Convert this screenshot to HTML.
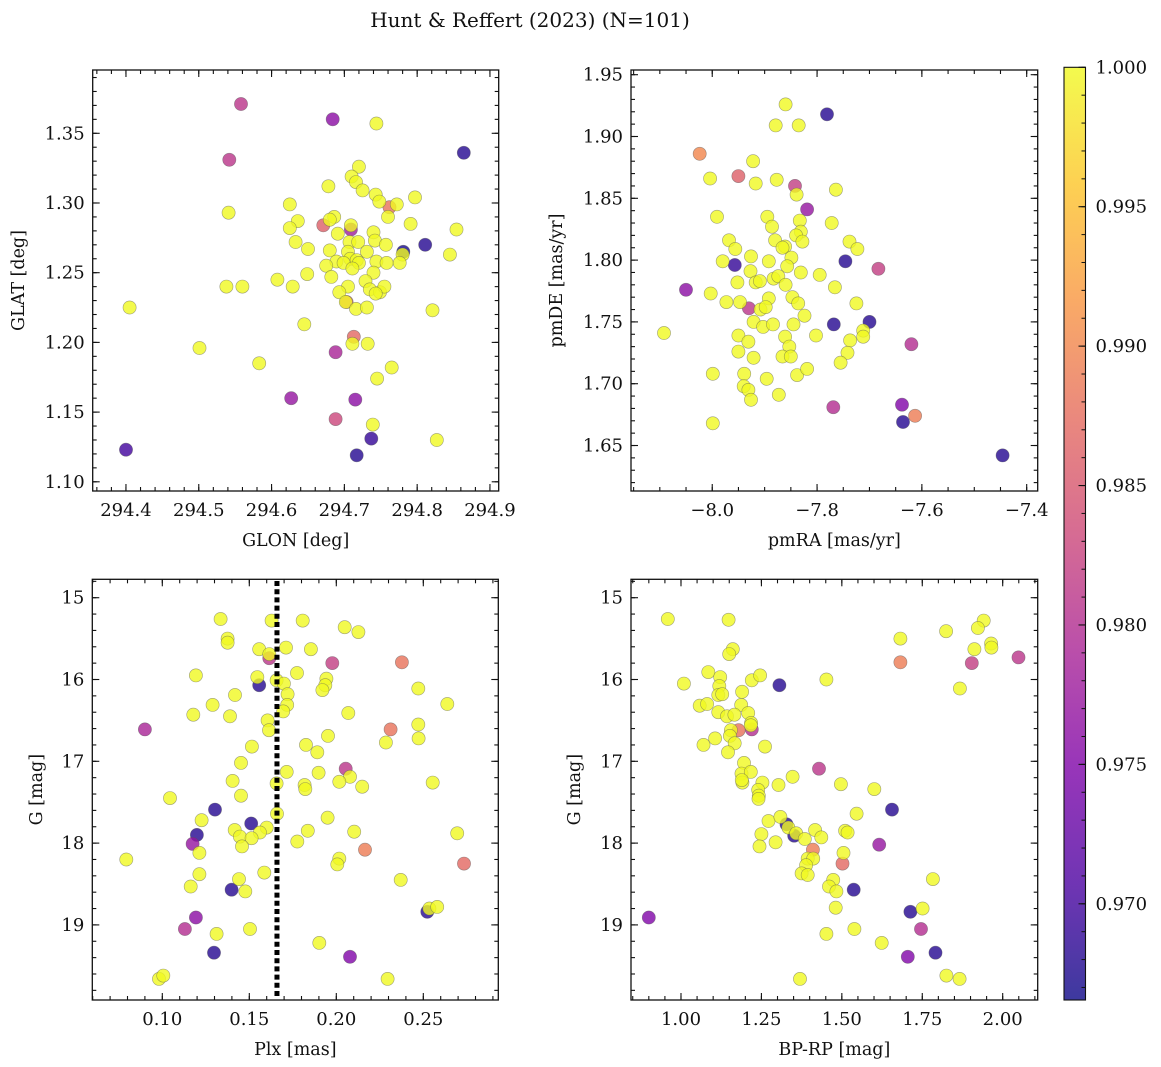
<!DOCTYPE html>
<html><head><meta charset="utf-8"><style>
html,body{margin:0;padding:0;background:#fff;}
svg{display:block;font-family:"DejaVu Serif","Liberation Serif",serif;}
</style></head><body>
<svg id="fig" width="1161" height="1067" viewBox="0 0 1161 1067" xmlns="http://www.w3.org/2000/svg">
<text x="530" y="27" font-size="20" text-anchor="middle" fill="#111">Hunt &amp; Reffert (2023) (N=101)</text>
</svg>
<script>
// Panel A: GLON vs GLAT
const glon=[294.558,294.684,294.744,294.864,294.542,294.720,294.710,294.716,294.678,294.725,294.743,294.797,294.748,294.625,294.762,294.772,294.541,294.760,294.686,294.680,294.636,294.791,294.671,294.709,294.709,294.625,294.854,294.740,294.691,294.742,294.633,294.707,294.719,294.757,294.811,294.781,294.780,294.680,294.650,294.705,294.731,294.845,294.708,294.689,294.699,294.717,294.720,294.744,294.758,294.776,294.675,294.711,294.649,294.740,294.682,294.608,294.629,294.538,294.560,294.729,294.705,294.735,294.749,294.755,294.743,294.693,294.703,294.702,294.716,294.731,294.405,294.821,294.645,294.713,294.711,294.732,294.501,294.688,294.583,294.765,294.745,294.627,294.715,294.688,294.739,294.737,294.827,294.400,294.717];
const glat=[1.371,1.360,1.357,1.336,1.331,1.326,1.319,1.315,1.312,1.309,1.306,1.304,1.301,1.299,1.297,1.299,1.293,1.290,1.290,1.288,1.287,1.285,1.284,1.281,1.284,1.282,1.281,1.279,1.278,1.273,1.272,1.272,1.272,1.270,1.270,1.265,1.263,1.266,1.267,1.265,1.265,1.263,1.260,1.258,1.257,1.259,1.257,1.258,1.257,1.257,1.255,1.253,1.249,1.250,1.247,1.245,1.240,1.240,1.240,1.244,1.240,1.238,1.236,1.240,1.235,1.236,1.229,1.229,1.224,1.225,1.225,1.223,1.213,1.204,1.199,1.199,1.196,1.193,1.185,1.182,1.174,1.160,1.159,1.145,1.141,1.131,1.130,1.123,1.119];
const probA=[.981,.976,1,.968,.981,1,1,1,1,1,1,1,1,1,.988,1,1,1,1,1,1,1,.986,.978,1,1,1,1,1,1,1,1,1,1,.968,.967,1,1,1,1,1,1,1,1,1,1,1,1,1,1,1,1,1,1,1,1,1,1,1,1,1,1,1,1,1,1,.987,1,1,1,1,1,1,.987,1,1,1,.979,1,1,1,.977,.976,.983,1,.969,1,.970,.968];
// Panel B: pmRA vs pmDE
const pmra=[-7.860,-7.781,-7.879,-7.835,-8.024,-7.922,-8.004,-7.950,-7.917,-7.877,-7.842,-7.839,-7.764,-7.819,-7.991,-7.895,-7.886,-7.833,-7.772,-7.831,-7.840,-7.828,-7.880,-7.861,-7.866,-7.968,-7.956,-7.738,-7.723,-7.926,-7.849,-7.980,-7.957,-7.892,-7.857,-7.746,-7.927,-7.831,-7.795,-7.683,-7.883,-7.874,-7.952,-7.917,-7.909,-7.860,-7.766,-8.050,-8.003,-7.973,-7.947,-7.892,-7.847,-7.836,-7.930,-7.908,-7.898,-7.725,-7.824,-7.921,-7.903,-7.884,-7.845,-7.768,-7.700,-8.092,-7.950,-7.931,-7.950,-7.921,-7.861,-7.853,-7.866,-7.850,-7.802,-7.737,-7.712,-7.712,-7.742,-7.620,-7.755,-7.999,-7.939,-7.896,-7.838,-7.819,-7.940,-7.931,-7.926,-7.873,-7.769,-7.638,-7.613,-7.636,-7.999,-7.446];
const pmde=[1.926,1.918,1.909,1.909,1.886,1.880,1.866,1.868,1.862,1.865,1.860,1.853,1.857,1.841,1.835,1.835,1.827,1.832,1.830,1.823,1.820,1.815,1.816,1.811,1.810,1.816,1.809,1.815,1.809,1.803,1.802,1.799,1.796,1.799,1.795,1.799,1.791,1.790,1.788,1.793,1.785,1.787,1.782,1.782,1.783,1.780,1.778,1.776,1.773,1.766,1.766,1.769,1.770,1.765,1.761,1.760,1.762,1.765,1.755,1.750,1.746,1.748,1.748,1.748,1.750,1.741,1.739,1.734,1.726,1.721,1.738,1.730,1.722,1.722,1.739,1.735,1.743,1.738,1.725,1.732,1.717,1.708,1.708,1.704,1.707,1.712,1.698,1.695,1.687,1.691,1.681,1.683,1.674,1.669,1.668,1.642];
const probB=[1,.968,1,1,.990,1,1,.986,1,1,.982,1,1,.977,1,1,1,1,1,1,1,1,1,1,1,1,1,1,1,1,1,1,.969,1,1,.968,1,1,1,.982,1,1,1,1,1,1,1,.976,1,1,1,1,1,1,.981,1,1,1,1,1,1,1,1,.968,.968,1,1,1,1,1,1,1,1,1,1,1,1,1,1,.980,1,1,1,1,1,1,1,1,1,1,.980,.975,.989,.968,1,.968];
// Panel C: Plx vs G
const plx=[0.1335,0.1628,0.1807,0.2048,0.2127,0.1375,0.1375,0.1557,0.1711,0.1854,0.1615,0.1615,0.1977,0.2377,0.1193,0.1774,0.1546,0.1557,0.1657,0.1699,0.1943,0.1937,0.1920,0.2471,0.1418,0.1720,0.1289,0.1718,0.1695,0.2638,0.1178,0.1389,0.2069,0.0900,0.1605,0.1613,0.2312,0.2471,0.2473,0.2285,0.1515,0.1952,0.1826,0.1891,0.1452,0.1715,0.1898,0.2054,0.2079,0.1404,0.1657,0.1818,0.1822,0.2017,0.2149,0.2554,0.1452,0.1044,0.1303,0.1659,0.1511,0.1226,0.1950,0.1600,0.1416,0.1561,0.1446,0.1513,0.1199,0.1836,0.2103,0.2695,0.1776,0.1458,0.1174,0.1213,0.2165,0.0793,0.2017,0.2006,0.2734,0.1213,0.1586,0.1163,0.1441,0.1398,0.1477,0.2370,0.2523,0.2535,0.2580,0.1193,0.1130,0.1312,0.1504,0.1902,0.1297,0.2079,0.0981,0.1006,0.2295];
const gmagC=[15.26,15.28,15.28,15.36,15.42,15.50,15.55,15.63,15.61,15.63,15.74,15.69,15.80,15.79,15.95,15.92,15.97,16.07,16.01,16.05,15.99,16.07,16.13,16.11,16.19,16.18,16.31,16.31,16.39,16.30,16.43,16.45,16.41,16.61,16.50,16.62,16.61,16.55,16.72,16.77,16.82,16.69,16.80,16.89,17.02,17.13,17.14,17.09,17.19,17.24,17.27,17.29,17.34,17.25,17.31,17.26,17.42,17.45,17.59,17.64,17.76,17.72,17.69,17.81,17.84,17.87,17.92,17.94,17.90,17.85,17.86,17.88,17.98,18.04,18.01,18.12,18.08,18.20,18.19,18.26,18.25,18.38,18.36,18.53,18.44,18.57,18.59,18.45,18.84,18.80,18.78,18.91,19.05,19.11,19.05,19.22,19.34,19.39,19.66,19.62,19.66];
const probC=[1,1,1,1,1,1,1,1,1,1,.981,1,.982,.988,1,1,1,.968,1,1,1,1,1,1,1,1,1,1,1,1,1,1,1,.979,1,1,.988,1,1,1,1,1,1,1,1,1,1,.981,1,1,1,1,1,1,1,1,1,1,.968,1,.968,1,1,1,1,1,1,1,.968,1,1,1,1,1,.977,1,.989,1,1,1,.987,1,1,1,1,.968,1,1,.968,1,1,.976,.980,1,1,1,.968,.975,1,1,1];
const plxCut=[0.1659];
// Panel D: BP-RP vs G
const bprp=[0.959,1.148,1.161,1.150,1.824,1.682,1.941,1.923,1.964,1.965,1.912,1.682,1.904,2.049,1.867,1.452,1.306,1.009,1.085,1.122,1.119,1.220,1.246,1.190,1.116,1.128,1.058,1.081,1.187,1.116,1.143,1.166,1.209,1.218,1.217,1.179,1.220,1.155,1.152,1.070,1.106,1.167,1.146,1.261,1.196,1.188,1.217,1.191,1.189,1.253,1.240,1.242,1.241,1.303,1.347,1.429,1.497,1.601,1.656,1.546,1.272,1.309,1.328,1.334,1.352,1.358,1.250,1.244,1.294,1.385,1.417,1.436,1.510,1.518,1.410,1.505,1.616,1.502,1.394,1.411,1.389,1.375,1.394,1.473,1.460,1.483,1.537,1.783,1.481,1.713,1.751,0.900,1.746,1.452,1.539,1.624,1.705,1.791,1.370,1.825,1.866];
const gmagD=[15.26,15.27,15.63,15.69,15.41,15.50,15.28,15.37,15.56,15.61,15.63,15.79,15.80,15.73,16.11,16.00,16.07,16.05,15.91,15.97,16.08,16.01,15.95,16.15,16.19,16.18,16.32,16.30,16.31,16.40,16.45,16.43,16.41,16.53,16.56,16.62,16.61,16.62,16.69,16.80,16.72,16.78,16.89,16.82,17.02,17.15,17.13,17.26,17.23,17.26,17.35,17.42,17.46,17.29,17.19,17.09,17.28,17.34,17.59,17.64,17.73,17.68,17.77,17.81,17.91,17.88,17.89,18.04,17.99,17.95,17.84,17.93,17.85,17.87,18.08,18.12,18.02,18.25,18.19,18.19,18.27,18.37,18.39,18.45,18.53,18.59,18.57,18.44,18.79,18.84,18.80,18.91,19.05,19.11,19.05,19.22,19.39,19.34,19.66,19.62,19.66];
const probD=[1,1,1,1,1,1,1,1,1,1,1,.989,.982,.981,1,1,.968,1,1,1,1,1,1,1,1,1,1,1,1,1,1,1,1,1,1,.988,.980,1,1,1,1,1,1,1,1,1,1,1,1,1,1,1,1,1,1,.981,1,1,.968,1,1,1,.968,1,.968,1,1,1,1,1,1,1,1,1,.989,1,.977,.987,1,1,1,1,1,1,1,1,.968,1,1,.968,1,.975,.980,1,1,1,.975,.968,1,1,1];
// tick labels
const ticksA_x=[294.4,294.5,294.6,294.7,294.8,294.9];
const ticksA_y=[1.10,1.15,1.20,1.25,1.30,1.35];
const ticksB_x=[-8.0,-7.8,-7.6,-7.4];
const ticksB_y=[1.65,1.70,1.75,1.80,1.85,1.90,1.95];
const ticksC_x=[0.10,0.15,0.20,0.25];
const ticksCD_y=[15,16,17,18,19];
const ticksD_x=[1.00,1.25,1.50,1.75,2.00];
const cbarTicks=[0.970,0.975,0.980,0.985,0.990,0.995,1.000];
const cbarRange=[0.96655,1.0];

const NS='http://www.w3.org/2000/svg';
const svg=document.getElementById('fig');
function mk(tag,attrs,parent){const e=document.createElementNS(NS,tag);for(const k in attrs)e.setAttribute(k,attrs[k]);(parent||svg).appendChild(e);return e;}
const plasma=[[13,8,135],[76,2,161],[126,3,168],[169,35,149],[204,71,120],[229,107,93],[248,149,64],[253,197,39],[240,249,33]];
function cmap(v){let t=(v-cbarRange[0])/(cbarRange[1]-cbarRange[0]);t=Math.max(0,Math.min(1,t));const s=t*8;const i=Math.min(7,Math.floor(s));const f=s-i;const a=plasma[i],b=plasma[i+1];return 'rgb('+[0,1,2].map(k=>Math.round(a[k]+(b[k]-a[k])*f)).join(',')+')';}
function fmt(v,d){const s=Math.abs(v).toFixed(d);return (v<0?'\u2212':'')+s;}

function panel(cfg){
  const g=mk('g',{});
  
  
  const {L,R,T,B}=cfg;
  const sx=v=>L+(v-cfg.xd[0])/(cfg.xd[1]-cfg.xd[0])*(R-L);
  const sy=cfg.invert? (v=>T+(v-cfg.yd[0])/(cfg.yd[1]-cfg.yd[0])*(B-T)) : (v=>B-(v-cfg.yd[0])/(cfg.yd[1]-cfg.yd[0])*(B-T));
  // points sorted so higher prob on top
  const idx=cfg.xs.map((_,i)=>i).sort((a,b)=>cfg.cs[a]-cfg.cs[b]);
  const pg=mk('g',{},g);
  
  
  idx.forEach(i=>{
    const c=mk('circle',{cx:sx(cfg.xs[i]).toFixed(1),cy:sy(cfg.ys[i]).toFixed(1),r:6.6,fill:cmap(cfg.cs[i]),'fill-opacity':0.8,stroke:'#555','stroke-opacity':0.55,'stroke-width':0.6},pg);
    
    
  });
  if(cfg.extra) cfg.extra(g,sx,sy);
  // frame
  const fr=mk('rect',{x:L,y:T,width:R-L,height:B-T,fill:'none',stroke:'#111','stroke-width':1.3},g);
  
  
  // ticks
  const tg=mk('g',{stroke:'#111','stroke-width':1.1},g);
  function xt(v,len){const x=sx(v);if(x<L-0.5||x>R+0.5)return;mk('line',{x1:x,y1:B,x2:x,y2:B-len},tg);mk('line',{x1:x,y1:T,x2:x,y2:T+len},tg);}
  function yt(v,len){const y=sy(v);if(y<T-0.5||y>B+0.5)return;mk('line',{x1:L,y1:y,x2:L+len,y2:y},tg);mk('line',{x1:R,y1:y,x2:R-len,y2:y},tg);}
  const nxm=Math.ceil((cfg.xd[0])/cfg.xminor-1e-9), nxM=Math.floor(cfg.xd[1]/cfg.xminor+1e-9);
  for(let k=nxm;k<=nxM;k++) xt(k*cfg.xminor,4);
  const lo=Math.min(cfg.yd[0],cfg.yd[1]),hi=Math.max(cfg.yd[0],cfg.yd[1]);
  for(let k=Math.ceil(lo/cfg.yminor-1e-9);k<=Math.floor(hi/cfg.yminor+1e-9);k++) yt(k*cfg.yminor,4);
  cfg.xticks.forEach(v=>{xt(v,7);const t=mk('text',{x:sx(v),y:B+25,'font-size':18,'text-anchor':'middle',fill:'#111'},g);t.textContent=fmt(v,cfg.xdec);});
  cfg.yticks.forEach(v=>{yt(v,7);const t=mk('text',{x:L-8,y:sy(v)+6,'font-size':18,'text-anchor':'end',fill:'#111'},g);t.textContent=fmt(v,cfg.ydec);});
  const xl=mk('text',{x:(L+R)/2,y:B+55,'font-size':17.5,'text-anchor':'middle',fill:'#111'},g);
  xl.textContent=cfg.xlabel;
  
  
  const ylx=cfg.ylx, yly=(T+B)/2;
  const yl=mk('text',{x:ylx,y:yly,'font-size':17.5,'text-anchor':'middle',fill:'#111',transform:'rotate(-90 '+ylx+' '+yly+')'},g);
  yl.textContent=cfg.ylabel;
  
  
}

panel({name:'glon-glat-panel',L:92.7,R:498.7,T:70,B:491,xd:[294.3543,294.912],yd:[1.0934,1.3954],xs:glon,ys:glat,cs:probA,xticks:ticksA_x,yticks:ticksA_y,xminor:0.02,yminor:0.01,xdec:1,ydec:2,xlabel:'GLON [deg]',ylabel:'GLAT [deg]',ylx:24});
panel({name:'pm-panel',L:631,R:1037.7,T:70,B:491,xd:[-8.155,-7.379],yd:[1.6132,1.9538],xs:pmra,ys:pmde,cs:probB,xticks:ticksB_x,yticks:ticksB_y,xminor:0.05,yminor:0.01,xdec:1,ydec:2,xlabel:'pmRA [mas/yr]',ylabel:'pmDE [mas/yr]',ylx:562});
panel({name:'plx-g-panel',L:92.3,R:498.3,T:579.3,B:1000,xd:[0.05977,0.2931],yd:[14.775,19.918],invert:true,xs:plx,ys:gmagC,cs:probC,xticks:ticksC_x,yticks:ticksCD_y,xminor:0.01,yminor:0.2,xdec:2,ydec:0,xlabel:'Plx [mas]',ylabel:'G [mag]',ylx:42,
  extra:(g,sx,sy)=>{plxCut.forEach(v=>{const l=mk('line',{x1:sx(v),y1:581,x2:sx(v),y2:999,stroke:'#000','stroke-width':5,'stroke-dasharray':'5,3.2'},g);});}});
panel({name:'cmd-panel',L:631,R:1037.7,T:579.3,B:1000,xd:[0.8446,2.1088],yd:[14.775,19.918],invert:true,xs:bprp,ys:gmagD,cs:probD,xticks:ticksD_x,yticks:ticksCD_y,xminor:0.05,yminor:0.2,xdec:2,ydec:0,xlabel:'BP-RP [mag]',ylabel:'G [mag]',ylx:580});

// colorbar
(function(){
  const L=1064,R=1085.5,T=67.3,B=1000;
  const cg=mk('g',{});
  
  
  const defs=mk('defs',{},cg);
  const lg=mk('linearGradient',{id:'cbg',x1:0,y1:1,x2:0,y2:0},defs);
  plasma.forEach((c,i)=>mk('stop',{offset:(i/8),'stop-color':'rgb('+c.join(',')+')'},lg));
  mk('rect',{x:L,y:T,width:R-L,height:B-T,fill:'url(#cbg)','fill-opacity':0.8},cg);
  mk('rect',{x:L,y:T,width:R-L,height:B-T,fill:'none',stroke:'#111','stroke-width':1.1},cg);
  const sy=v=>B-(v-cbarRange[0])/(cbarRange[1]-cbarRange[0])*(B-T);
  for(let k=967;k<=1000;k++){const y=sy(k/1000);mk('line',{x1:R,y1:y,x2:R-4,y2:y,stroke:'#111','stroke-width':1},cg);}
  cbarTicks.forEach(v=>{const y=sy(v);mk('line',{x1:R,y1:y,x2:R-7,y2:y,stroke:'#111','stroke-width':1.1},cg);
    const t=mk('text',{x:R+10,y:y+6,'font-size':18,fill:'#111'},cg);t.textContent=v.toFixed(3);
    
    });
})();
</script>
</body></html>
